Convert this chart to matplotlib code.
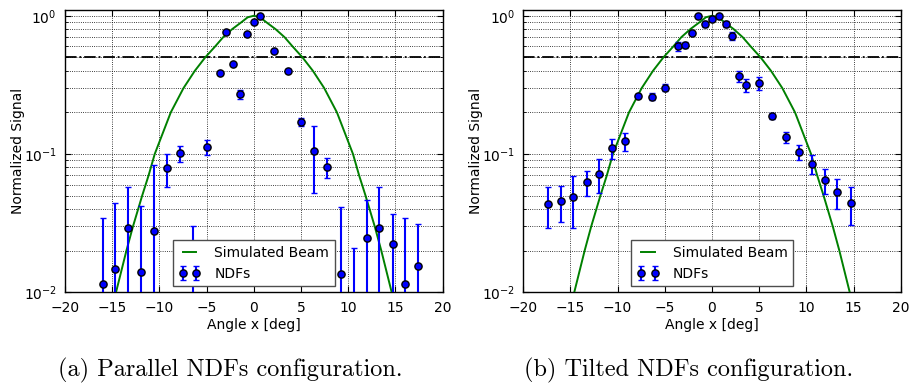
import numpy as np
import matplotlib
matplotlib.use("Agg")
import matplotlib.pyplot as plt
from matplotlib.ticker import LogLocator, FixedLocator

# ---- simulated beam profile (normalized) ----
beam_angle = [-15.0, -14.6, -13.5, -12.8, -11.83, -11.15, -10.5, -8.8, -7.45,
              -6.25, -5.15, -4.1, -3.25, -2.3, -1.3, -0.65, 0.0, 0.65, 1.3, 2.3,
              3.25, 4.1, 5.15, 6.25, 7.45, 8.8, 10.5, 11.15, 11.83, 12.8, 13.5,
              14.6, 15.0]
beam_signal = [0.0078, 0.01, 0.02, 0.03, 0.05, 0.07, 0.1, 0.2, 0.3,
               0.4, 0.5, 0.6, 0.7, 0.8, 0.9, 0.975, 1.0, 0.975, 0.9, 0.8,
               0.7, 0.6, 0.5, 0.4, 0.3, 0.2, 0.1, 0.07, 0.05, 0.03, 0.02,
               0.01, 0.0078]

# ---- parallel NDF measurements ----
par_angle = [-16.0, -14.7, -13.3, -12.0, -10.6, -9.2, -7.8, -6.4, -5.0, -3.6,
             -2.9, -2.2, -1.45, -0.7, 0.0, 0.7, 2.15, 3.6, 5.0, 6.4,
             7.8, 9.2, 10.6, 12.0, 13.3, 14.7, 16.0, 17.4]
par_signal = [0.0114, 0.0147, 0.029, 0.0141, 0.0277, 0.0788, 0.101, 0.012, 0.112, 0.387,
              0.758, 0.445, 0.270, 0.733, 0.896, 1.0, 0.558, 0.40, 0.171, 0.106,
              0.0805, 0.0136, 0.008, 0.0247, 0.029, 0.0222, 0.0114, 0.0156]
par_err = [0.023, 0.0295, 0.0287, 0.028, 0.0555, 0.021, 0.014, 0.018, 0.014, 0.005,
           0.008, 0.008, 0.019, 0.01, 0.01, 0.01, 0.01, 0.01, 0.0125, 0.0535,
           0.0135, 0.0276, 0.0128, 0.0215, 0.0287, 0.0148, 0.023, 0.0154]

# ---- tilted NDF measurements ----
tilt_angle = [-17.4, -16.0, -14.7, -13.3, -12.0, -10.6, -9.2, -7.8, -6.4, -5.0,
              -3.6, -2.9, -2.15, -1.45, -0.7, 0.0, 0.72, 1.45, 2.15, 2.9,
              3.6, 5.0, 6.4, 7.8, 9.2, 10.6, 12.0, 13.3, 14.7]
tilt_signal = [0.0433, 0.0455, 0.0491, 0.0628, 0.0721, 0.110, 0.1235, 0.264, 0.260, 0.302,
               0.601, 0.611, 0.754, 0.99, 0.871, 0.95, 1.0, 0.871, 0.713, 0.365,
               0.314, 0.326, 0.189, 0.133, 0.103, 0.0851, 0.0645, 0.0529, 0.0442]
tilt_err = [0.014, 0.0135, 0.0197, 0.0128, 0.0195, 0.018, 0.0185, 0.008, 0.015, 0.018,
            0.048, 0.03, 0.02, 0.02, 0.04, 0.03, 0.02, 0.04, 0.05, 0.033,
            0.035, 0.035, 0.01, 0.012, 0.013, 0.0128, 0.013, 0.013, 0.0133]

half_power = 0.5
x_ticks = [-20, -15, -10, -5, 0, 5, 10, 15, 20]
captions = ["(a) Parallel NDFs configuration.", "(b) Tilted NDFs configuration."]

plt.rcParams.update({
    "font.family": "DejaVu Sans",
    "font.size": 10,
    "xtick.direction": "in",
    "ytick.direction": "in",
    "xtick.top": True,
    "ytick.right": True,
    "xtick.major.size": 4,
    "ytick.major.size": 4,
    "ytick.minor.size": 2,
    "xtick.major.pad": 6,
    "ytick.major.pad": 6,
    "legend.numpoints": 2,
    "axes.linewidth": 1.0,
    "mathtext.fontset": "dejavusans",
})

fig = plt.figure(figsize=(9.12, 3.86), dpi=100)
fig.patch.set_facecolor("white")

ax_left = fig.add_axes([0.0713, 0.2427, 0.4141, 0.7313])
ax_right = fig.add_axes([0.5738, 0.2427, 0.4138, 0.7313])

datasets = [
    (ax_left, par_angle, par_signal, par_err),
    (ax_right, tilt_angle, tilt_signal, tilt_err),
]

for ax, xa, ya, ea in datasets:
    ax.set_yscale("log")
    ax.axhline(half_power, color="k", ls="-.", lw=1.3, zorder=2)
    ax.plot(beam_angle, beam_signal, color="g", lw=1.4, label="Simulated Beam", zorder=3)
    ax.errorbar(xa, ya, yerr=ea, fmt="o", color="b", ecolor="b", mec="k",
                ms=5.2, elinewidth=1.5, capsize=2, capthick=1, label="NDFs", zorder=4)
    ax.set_xlim(-20, 20)
    ax.set_ylim(0.01, 1.1)
    ax.xaxis.set_major_locator(FixedLocator(x_ticks))
    ax.yaxis.set_major_locator(LogLocator(base=10))
    ax.yaxis.set_minor_locator(LogLocator(base=10, subs=np.arange(2, 10)))
    ax.grid(True, which="major", ls=":", color="k", lw=0.6)
    ax.yaxis.grid(True, which="minor", ls=":", color="k", lw=0.6)
    ax.set_axisbelow(True)
    ax.set_xlabel("Angle x [deg]", labelpad=2.5)
    ax.set_ylabel("Normalized Signal", labelpad=-1)
    leg = ax.legend(loc="lower center", fontsize=10, handlelength=1.6,
                    handletextpad=1.0, borderaxespad=0.45, fancybox=False,
                    framealpha=1)
    leg.get_frame().set_edgecolor("0.3")
    leg.get_frame().set_linewidth(1.0)
    leg.set_zorder(10)

caption_x = [0.253, 0.755]
for cx, cap in zip(caption_x, captions):
    fig.text(cx, 0.041, cap, ha="center", va="center",
             fontsize=17.5, family="cmr10")

fig.savefig("out.png", dpi=100, facecolor="white")
